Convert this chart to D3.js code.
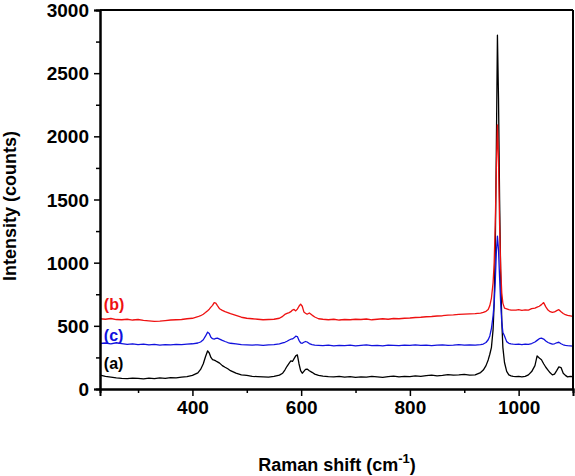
<!DOCTYPE html>
<html><head><meta charset="utf-8">
<script src="https://cdn.jsdelivr.net/npm/d3@7/dist/d3.min.js"></script>
<style>
html,body{margin:0;padding:0;background:#fff;}
svg{display:block;}
text{font-family:Arial,"Liberation Sans",sans-serif;font-weight:bold;}
</style></head>
<body>
<svg id="chart" width="575" height="476"></svg>
<script>
// Raman shift (cm-1) sample positions shared by all spectra
const shift = [
 230,240,250,260,270,280,290,300,310,320,330,340,350,360,370,380,390,400,410,
 415,420,424,428,431,434,437,440,443,446,450,455,460,465,470,
 480,490,500,510,520,530,540,550,560,566,
 570,574,578,581,584,587,590,593,596,599,602,605,608,611,615,620,625,
 632,640,650,660,670,680,690,700,710,720,730,740,750,760,770,780,790,800,810,820,830,840,850,860,870,880,890,900,910,920,930,
 935,940,944,947,950,953,955,957,959,961,963,965,967,969,971,974,978,982,986,990,
 995,1000,1006,1012,1018,1024,1030,1034,1038,1042,1046,1050,1054,1058,1062,1066,1070,1074,1078,1082,1086,1090,1095,1100
];
// (a) black
const seriesA = [
 110,100,94,88,84,82,86,84,80,86,82,88,84,90,88,94,98,108,128,
 155,200,255,302,285,250,232,228,222,215,205,185,172,160,145,
 125,112,108,100,98,96,94,100,110,125,
 150,180,205,222,218,240,262,270,200,145,125,140,155,158,145,132,118,
 108,102,98,96,100,94,98,92,96,94,100,96,92,98,102,96,100,98,104,100,106,110,104,108,114,110,112,115,110,112,130,
 150,185,230,275,330,470,680,1100,1900,2800,2300,1500,900,540,330,210,140,112,104,100,
 98,100,96,100,112,138,185,262,245,232,200,172,150,128,112,118,145,175,170,125,108,96,100,98
];
// (b) red
const seriesB = [
 556,552,558,550,548,552,546,550,544,540,536,538,542,546,548,550,556,560,572,
 580,592,605,620,632,648,662,684,680,660,635,622,612,605,596,
 582,568,560,556,552,548,550,552,560,575,
 590,598,605,612,625,630,618,632,655,672,655,610,600,592,602,585,570,
 556,552,548,552,546,550,548,552,550,554,548,552,556,552,558,556,560,562,566,568,572,574,578,580,584,586,590,592,594,596,600,
 606,615,630,660,720,840,1000,1300,1750,2090,1800,1300,950,760,680,640,635,628,625,624,
 624,628,622,626,624,636,640,648,655,668,684,650,625,612,606,610,620,628,612,598,588,582,578,574
];
// (c) blue
const seriesC = [
 360,364,358,366,360,354,358,352,356,350,354,348,352,350,354,352,356,358,364,
 372,390,418,450,440,410,398,395,400,402,395,385,376,368,362,
 358,352,350,348,350,346,350,352,358,365,
 370,378,388,394,396,405,418,415,385,365,362,370,376,372,360,352,348,
 346,344,348,342,346,344,348,342,346,350,344,346,342,348,346,344,348,346,350,346,348,344,348,350,346,348,352,348,350,348,352,
 356,368,390,420,480,580,680,850,1080,1210,1100,880,680,530,450,420,375,362,358,356,
 354,356,352,356,354,360,372,385,398,402,395,380,368,362,356,358,366,370,358,350,346,344,342,340
];
const seriesNames = ["(a)","(b)","(c)"];
const seriesColors = ["#000000","#ee1111","#1111dd"];
const labelPos = [[237,158],[237,626],[237,380]];
const xMajor = [400,600,800,1000];
const xMinor = [300,500,700,900];
const yMajor = [0,500,1000,1500,2000,2500,3000];
const yMinor = [250,750,1250,1750,2250,2750];

const svg = d3.select("#chart");
const L=100, R=573, T=10, B=389;
const x = d3.scaleLinear().domain([230,1100]).range([L,R]);
const y = d3.scaleLinear().domain([0,3000]).range([B,T]);

const line = d3.line().x(d=>x(d[0])).y(d=>y(d[1]));
const all = [seriesA, seriesB, seriesC];
const order = [0,1,2];
order.forEach(i=>{
  svg.append("path")
    .datum(shift.map((s,k)=>[s, all[i][k]]))
    .attr("d", line)
    .attr("fill","none")
    .attr("stroke", seriesColors[i])
    .attr("stroke-width",1.3)
    .attr("stroke-linejoin","round");
});

// frame
svg.append("line").attr("x1",L).attr("x2",R).attr("y1",T).attr("y2",T).attr("stroke","#000").attr("stroke-width",2);
svg.append("line").attr("x1",R).attr("x2",R).attr("y1",T).attr("y2",B).attr("stroke","#000").attr("stroke-width",2);

// axes
const gx = svg.append("g").attr("transform",`translate(0,${B})`)
  .call(d3.axisBottom(x).tickValues(xMajor).tickSize(7).tickPadding(5).tickFormat(d3.format("d")));
const gxm = svg.append("g").attr("transform",`translate(0,${B})`)
  .call(d3.axisBottom(x).tickValues(xMinor).tickSize(4).tickFormat(""));
const gy = svg.append("g").attr("transform",`translate(${L},0)`)
  .call(d3.axisLeft(y).tickValues(yMajor).tickSize(6).tickPadding(5).tickFormat(d3.format("d")));
const gym = svg.append("g").attr("transform",`translate(${L},0)`)
  .call(d3.axisLeft(y).tickValues(yMinor).tickSize(4).tickFormat(""));
[gx,gxm,gy,gym].forEach(g=>{
  g.select(".domain").attr("stroke","#000").attr("stroke-width",2);
  g.selectAll(".tick line").attr("stroke","#000").attr("stroke-width",1.5);
  g.selectAll(".tick text").attr("fill","#000").style("font-size","19px").style("font-weight","bold")
   .style("font-family","Arial, 'Liberation Sans', sans-serif");
});
gy.selectAll(".tick text").attr("dy","0.35em");

// series labels
seriesNames.forEach((n,i)=>{
  svg.append("text").attr("x",x(labelPos[i][0])).attr("y",y(labelPos[i][1]))
    .attr("fill",seriesColors[i]).style("font-size","16px").text(n);
});

// axis titles
const xt = svg.append("text").attr("x",337).attr("y",471).attr("text-anchor","middle").style("font-size","18px");
xt.append("tspan").text("Raman shift (cm");
xt.append("tspan").attr("dy",-8).style("font-size","13px").text("-1");
xt.append("tspan").attr("dy",8).text(")");
svg.append("text").attr("transform","translate(16,206) rotate(-90)").attr("text-anchor","middle")
  .style("font-size","18px").text("Intensity (counts)");
</script>
</body></html>
